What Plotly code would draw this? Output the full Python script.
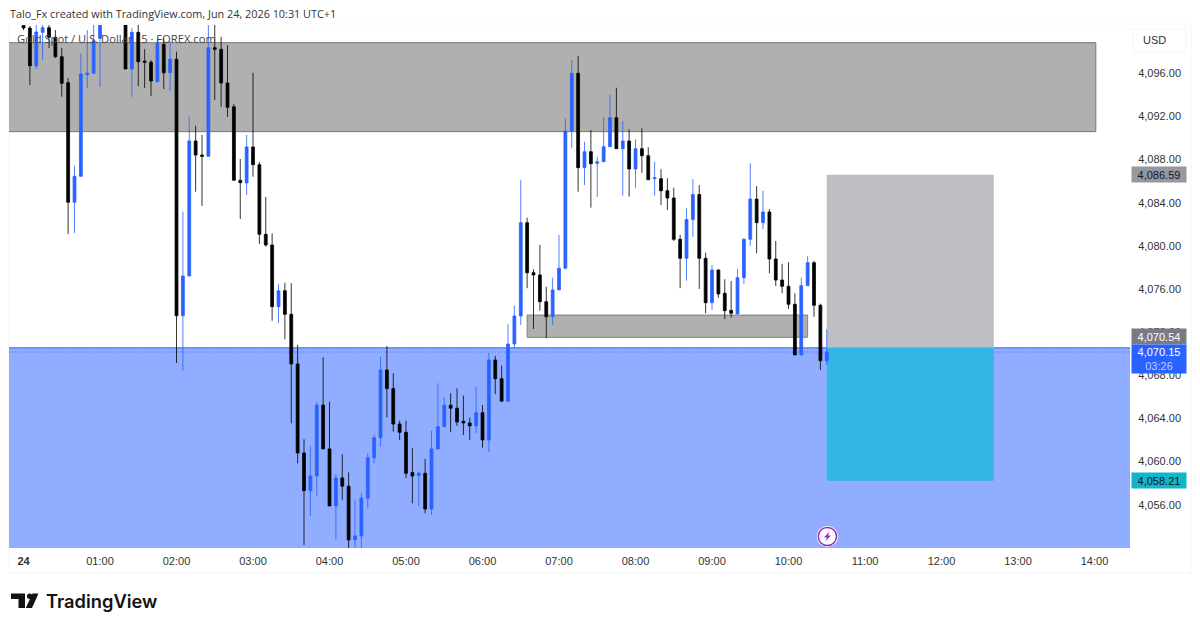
import pandas as pd
import plotly.graph_objects as go

# 5 minute candles, Gold Spot / USD, 24 Jun from 00:00
times = pd.date_range("2026-06-24 00:00", periods=127, freq="5min")

opens = [4100.46, 4100.20, 4096.68, 4099.80, 4100.23, 4099.34, 4097.54, 4095.13, 4084.04, 4086.45,
         4095.87, 4096.00, 4099.24, 4100.95, 4102.10, 4101.40, 4100.70, 4096.40, 4099.80, 4097.14,
         4097.02, 4095.22, 4098.69, 4096.05, 4097.30, 4073.52, 4077.20, 4089.72, 4088.42, 4088.30,
         4098.37, 4098.22, 4095.10, 4092.90, 4086.08, 4085.83, 4089.17, 4087.53, 4081.07, 4080.08,
         4074.36, 4075.84, 4073.65, 4069.05, 4060.79, 4057.30, 4058.66, 4065.24, 4061.17, 4055.88,
         4058.48, 4057.71, 4052.73, 4053.10, 4056.59, 4060.36, 4062.21, 4068.49, 4066.76, 4063.48,
         4062.71, 4058.97, 4058.69, 4058.91, 4055.60, 4061.17, 4063.23, 4065.22, 4064.94, 4063.73,
         4063.58, 4063.30, 4064.53, 4062.00, 4069.42, 4067.68, 4065.59, 4070.90, 4073.50, 4082.15,
         4077.51, 4077.30, 4074.82, 4073.43, 4075.91, 4077.92, 4090.65, 4096.00, 4087.25, 4088.73,
         4087.65, 4087.80, 4089.19, 4091.88, 4089.01, 4089.72, 4087.13, 4089.01, 4088.36, 4086.23,
         4086.23, 4085.11, 4084.44, 4080.61, 4078.85, 4082.44, 4084.76, 4078.85, 4074.73, 4077.76,
         4075.60, 4074.02, 4073.68, 4077.05, 4080.61, 4084.34, 4082.15, 4083.14, 4078.78, 4076.83,
         4076.25, 4074.58, 4069.88, 4076.31, 4078.44, 4074.49, 4069.35]

highs = [4100.60, 4100.39, 4100.60, 4100.60, 4100.60, 4100.01, 4098.35, 4095.56, 4087.43, 4097.88,
         4100.01, 4100.60, 4101.60, 4103.00, 4103.20, 4102.00, 4101.00, 4100.20, 4100.60, 4098.25,
         4097.23, 4099.27, 4099.27, 4098.93, 4098.00, 4083.17, 4091.98, 4091.14, 4090.28, 4100.60,
         4100.60, 4099.37, 4098.62, 4093.15, 4088.05, 4090.28, 4096.05, 4087.78, 4084.53, 4081.16,
         4076.46, 4076.58, 4076.53, 4070.81, 4062.06, 4061.44, 4065.55, 4069.67, 4065.55, 4058.85,
         4060.67, 4059.00, 4056.44, 4057.11, 4060.79, 4062.46, 4069.72, 4070.71, 4068.18, 4063.79,
         4063.79, 4061.23, 4059.06, 4060.24, 4062.86, 4067.26, 4065.96, 4066.33, 4066.79, 4066.11,
         4064.07, 4066.94, 4065.24, 4070.09, 4069.79, 4068.89, 4072.75, 4074.45, 4086.11, 4082.61,
         4077.83, 4080.08, 4076.21, 4077.05, 4081.01, 4091.83, 4097.23, 4097.63, 4089.66, 4090.74,
         4088.27, 4091.92, 4093.99, 4094.66, 4091.58, 4090.81, 4089.88, 4090.90, 4089.14, 4087.80,
         4087.10, 4086.26, 4085.39, 4081.01, 4083.48, 4086.17, 4085.64, 4079.37, 4078.22, 4077.83,
         4076.90, 4076.74, 4077.83, 4080.70, 4087.65, 4085.55, 4085.11, 4083.42, 4080.45, 4078.32,
         4078.48, 4075.60, 4077.05, 4079.06, 4078.60, 4074.64, 4072.26]

lows = [4100.01, 4094.91, 4096.40, 4097.23, 4098.35, 4097.42, 4093.83, 4081.10, 4081.19, 4086.45,
        4094.64, 4096.00, 4094.73, 4100.70, 4100.90, 4100.60, 4096.40, 4093.83, 4094.82, 4094.64,
        4093.90, 4095.22, 4094.54, 4094.36, 4069.14, 4068.42, 4077.20, 4085.02, 4083.70, 4088.30,
        4093.52, 4092.88, 4091.95, 4086.08, 4082.49, 4084.72, 4086.41, 4080.17, 4079.92, 4073.06,
        4072.85, 4071.34, 4063.55, 4059.84, 4052.26, 4054.95, 4056.74, 4061.17, 4055.88, 4052.79,
        4056.44, 4051.80, 4051.80, 4051.80, 4055.67, 4059.84, 4061.38, 4064.10, 4062.77, 4062.00,
        4058.45, 4056.13, 4055.88, 4055.20, 4055.05, 4061.15, 4063.23, 4062.71, 4063.30, 4062.46,
        4062.00, 4062.62, 4061.29, 4060.86, 4066.24, 4065.59, 4065.59, 4070.50, 4072.66, 4076.07,
        4072.29, 4073.99, 4071.43, 4072.66, 4075.91, 4077.90, 4089.05, 4085.02, 4085.64, 4083.54,
        4084.56, 4087.80, 4089.19, 4089.01, 4084.65, 4084.56, 4085.39, 4086.78, 4086.13, 4084.65,
        4083.79, 4083.33, 4080.45, 4076.07, 4076.77, 4080.85, 4076.00, 4073.75, 4074.05, 4075.19,
        4073.22, 4073.34, 4073.68, 4076.46, 4080.01, 4079.31, 4081.54, 4077.46, 4076.28, 4075.60,
        4074.15, 4069.88, 4069.88, 4076.31, 4073.43, 4068.49, 4068.95]

closes = [4100.20, 4096.70, 4099.83, 4100.23, 4099.34, 4097.54, 4095.07, 4084.04, 4086.45, 4095.93,
          4096.03, 4099.02, 4100.95, 4102.10, 4101.40, 4100.70, 4096.40, 4099.80, 4097.07, 4097.02,
          4095.29, 4098.78, 4096.05, 4097.30, 4073.52, 4077.20, 4089.72, 4088.42, 4088.30, 4098.37,
          4098.22, 4095.10, 4092.85, 4086.08, 4085.86, 4089.17, 4087.53, 4081.07, 4080.08, 4074.36,
          4075.84, 4073.65, 4069.05, 4060.79, 4057.30, 4058.66, 4065.24, 4061.17, 4055.88, 4058.48,
          4057.71, 4052.73, 4053.10, 4056.59, 4060.36, 4062.21, 4068.49, 4066.76, 4063.48, 4062.71,
          4058.91, 4058.66, 4058.91, 4055.60, 4061.17, 4063.23, 4065.22, 4064.94, 4063.67, 4063.58,
          4063.30, 4064.53, 4062.00, 4069.42, 4067.68, 4065.59, 4070.90, 4073.50, 4082.15, 4077.51,
          4077.30, 4074.82, 4073.43, 4075.91, 4077.92, 4090.65, 4096.00, 4087.25, 4088.73, 4087.62,
          4087.80, 4089.19, 4091.88, 4089.01, 4089.72, 4087.13, 4089.01, 4088.36, 4086.13, 4086.32,
          4085.11, 4084.44, 4080.61, 4078.85, 4082.44, 4084.76, 4078.85, 4074.73, 4077.76, 4075.54,
          4073.99, 4073.75, 4077.05, 4080.61, 4084.34, 4082.15, 4083.14, 4078.78, 4076.83, 4076.25,
          4074.58, 4069.88, 4076.31, 4078.44, 4074.49, 4069.35, 4070.15]

price_ticks = [4056, 4060, 4064, 4068, 4072, 4076, 4080, 4084, 4088, 4092, 4096]
hour_ticks = ["2026-06-24 %02d:00" % h for h in range(15)]
hour_labels = ["<b>24</b>"] + ["%02d:00" % h for h in range(1, 15)]

# levels drawn on the chart
zone_top = [4098.84, 4090.59]
zone_small = [4073.58, 4071.52]
last_price = 4070.15
entry = 4070.54
target = 4058.21
stop = 4086.59

UP = "#2962FF"
DOWN = "#000000"
ZONE = "#B0B0B0"
FONT = "Liberation Sans"

# plot box in pixels, used only for the furniture outside the data
L, R, T, B = 9, 1130, 25, 548

def px(x):
    return (x - L) / (R - L)

def py(y):
    return (B - y) / (B - T)

def path(points):
    return "M " + " L ".join("%f,%f" % (px(x), py(y)) for x, y in points) + " Z"

fig = go.Figure(go.Candlestick(x=times, open=opens, high=highs, low=lows, close=closes,
                               increasing=dict(line=dict(color=UP, width=0.8), fillcolor=UP),
                               decreasing=dict(line=dict(color=DOWN, width=0.8), fillcolor=DOWN),
                               whiskerwidth=0, showlegend=False))

shapes = [
    # pane outline
    dict(type="rect", xref="paper", yref="paper", x0=0, x1=px(1191), y0=py(573), y1=py(24),
         line=dict(color="#F5F5F5", width=1), layer="below"),
    # blue area under the entry
    dict(type="rect", xref="paper", yref="y", x0=0, x1=1, y0=4040, y1=entry,
         fillcolor="#91ADFF", line_width=0, layer="below"),
    dict(type="line", xref="paper", yref="y", x0=0, x1=1, y0=entry, y1=entry,
         line=dict(color="#2962FF", width=1), layer="below"),
    # zones
    dict(type="rect", x0="2026-06-23 23:00", x1="2026-06-24 14:01", y0=zone_top[1], y1=zone_top[0],
         fillcolor=ZONE, line=dict(color="#777777", width=1), layer="below"),
    dict(type="rect", x0="2026-06-24 06:35", x1="2026-06-24 10:15", y0=zone_small[1], y1=zone_small[0],
         fillcolor=ZONE, line=dict(color="#808080", width=1), layer="below"),
    # position tool
    dict(type="rect", x0="2026-06-24 10:30", x1="2026-06-24 12:41", y0=entry, y1=stop,
         fillcolor="#BDBEC4", line_width=0, layer="below"),
    dict(type="rect", x0="2026-06-24 10:30", x1="2026-06-24 12:41", y0=target, y1=entry,
         fillcolor="#33B5E5", line_width=0, layer="below"),
    dict(type="line", xref="paper", yref="y", x0=0, x1=1, y0=last_price, y1=last_price,
         line=dict(color="#2962FF", width=0.8, dash="1px,2px"), layer="below"),
    # USD button
    dict(type="rect", xref="paper", yref="paper", x0=px(1133), x1=px(1186), y0=py(52), y1=py(29),
         line=dict(color="#F6F6F6", width=1)),
    # lightning marker
    dict(type="circle", xref="paper", yref="paper", x0=px(816.8), x1=px(838), y0=py(547), y1=py(526),
         fillcolor="white", line_width=0),
    dict(type="circle", xref="paper", yref="paper", x0=px(818.3), x1=px(836.5), y0=py(545.6), y1=py(527.4),
         fillcolor="white", line=dict(color="#9C27B0", width=1.5)),
    dict(type="path", xref="paper", yref="paper", fillcolor="#9C27B0", line_width=0,
         path=path([(829.5, 531.5), (824, 537.5), (827, 537.5), (825, 541.5), (831, 535.5), (828, 535.5)])),
    # logo
    dict(type="path", xref="paper", yref="paper", fillcolor="#131313", line_width=0,
         path=path([(11, 593.5), (25, 593.5), (25, 608), (18.5, 608), (18.5, 599), (11, 599)])),
    dict(type="circle", xref="paper", yref="paper", fillcolor="#131313", line_width=0,
         x0=px(27), x1=px(32.4), y0=py(599), y1=py(593.6)),
    dict(type="path", xref="paper", yref="paper", fillcolor="#131313", line_width=0,
         path=path([(32.5, 593.5), (38.5, 593.5), (32, 608), (25.8, 608)])),
]

def price_label(text, price, fill, color, shift=0, h=15):
    return dict(text=text, xref="paper", yref="y", x=1, y=price, xanchor="left", yanchor="middle",
                xshift=1, yshift=shift, showarrow=False, width=54, height=h, bgcolor=fill, align="center",
                borderpad=0, font=dict(family=FONT, size=11, color=color))

annotations = [
    dict(text="Talo_Fx created with TradingView.com, Jun 24, 2026 10:31 UTC+1", xref="paper", yref="paper",
         x=px(8), y=py(14), xanchor="left", yanchor="middle", showarrow=False,
         font=dict(family="Open Sans", size=10.85, color="#333333")),
    dict(text="Gold Spot / U.S. Dollar · 5 · FOREX.com", xref="paper", yref="paper",
         x=px(15), y=py(39), xanchor="left", yanchor="middle", showarrow=False,
         font=dict(family="Open Sans", size=11.2, color="#444444")),
    dict(text="USD", xref="paper", yref="paper", x=px(1141), y=py(40), xanchor="left", yanchor="middle",
         showarrow=False, font=dict(family=FONT, size=11, color="#333333")),
    dict(text="TradingView", xref="paper", yref="paper", x=px(44), y=py(601), xanchor="left", yanchor="middle",
         showarrow=False, font=dict(family="Inter", size=18.3, color="#131313", weight=600)),
    price_label("4,086.59", stop, "#9598A1", "#131722"),
    price_label("4,070.54", entry, "#787B86", "#FFFFFF", shift=11),
    price_label('4,070.15<br><span style="color:#BBD0FF">03:26</span>', last_price, "#2962FF", "#FFFFFF",
                shift=-7, h=28),
    price_label("4,058.21", target, "#12B5CB", "#131722"),
]

fig.update_layout(width=1200, height=629, autosize=False,
                  margin=dict(l=L, r=1200 - R, t=T, b=629 - B),
                  paper_bgcolor="white", plot_bgcolor="white", boxgap=0.36,
                  shapes=shapes, annotations=annotations,
                  font=dict(family=FONT, size=11, color="#333333"))

fig.update_xaxes(type="date", range=["2026-06-23 23:48:37", "2026-06-24 14:27:50"],
                 tickmode="array", tickvals=hour_ticks, ticktext=hour_labels,
                 showgrid=False, zeroline=False, showline=False,
                 ticks="outside", ticklen=3, tickcolor="rgba(0,0,0,0)",
                 rangeslider_visible=False, tickfont=dict(family=FONT, size=11, color="#333333"))

fig.update_yaxes(side="right", range=[4051.98, 4100.48],
                 tickmode="array", tickvals=price_ticks, tickformat=",.2f",
                 showgrid=False, zeroline=False, showline=False,
                 ticks="outside", ticklen=5, tickcolor="rgba(0,0,0,0)",
                 tickfont=dict(family=FONT, size=11, color="#333333"))

fig.write_html("out.html", config=dict(displayModeBar=False),
               post_script="document.body.style.margin='0';document.body.style.overflow='hidden';")
